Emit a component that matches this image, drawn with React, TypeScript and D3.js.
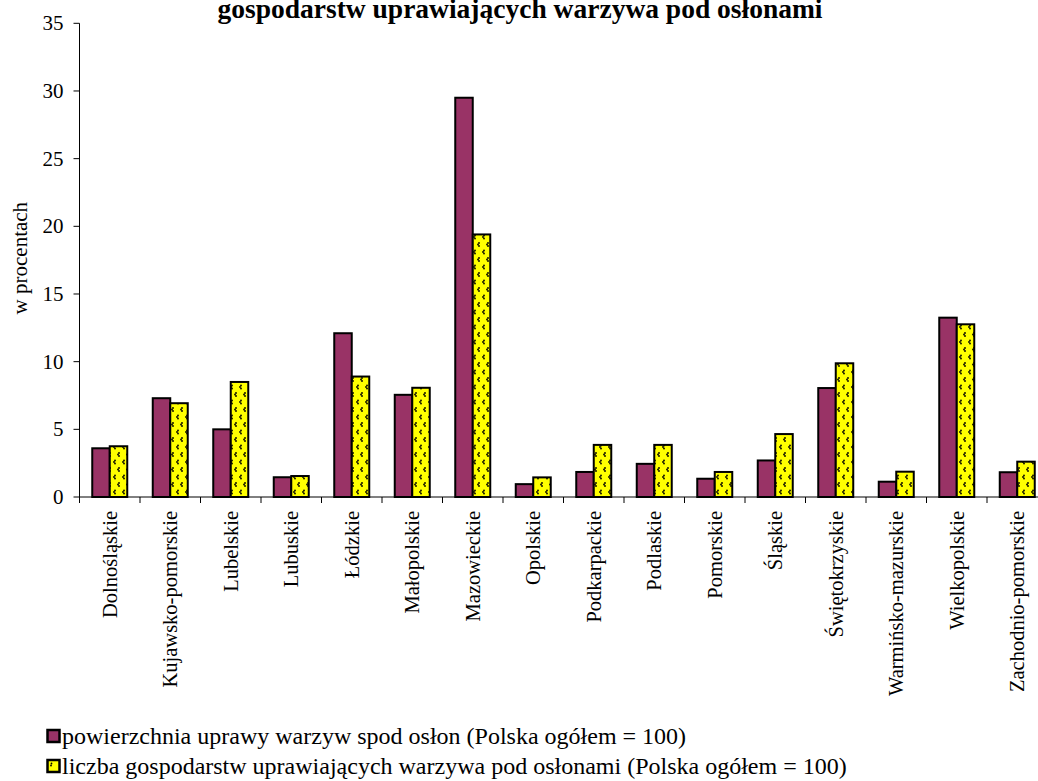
import React from "react";
import * as d3 from "d3";

const categories = [
  "Dolnośląskie", "Kujawsko-pomorskie", "Lubelskie", "Lubuskie", "Łódzkie", "Małopolskie",
  "Mazowieckie", "Opolskie", "Podkarpackie", "Podlaskie", "Pomorskie", "Śląskie",
  "Świętokrzyskie", "Warmińsko-mazurskie", "Wielkopolskie", "Zachodnio-pomorskie",
];
const powierzchnia = [3.6, 7.3, 5.0, 1.46, 12.1, 7.55, 29.5, 0.95, 1.85, 2.45, 1.35, 2.7, 8.05, 1.13, 13.25, 1.83];
const liczba = [3.75, 6.93, 8.5, 1.55, 8.9, 8.07, 19.4, 1.45, 3.85, 3.85, 1.85, 4.65, 9.88, 1.87, 12.76, 2.61];
const yTicks = [0, 5, 10, 15, 20, 25, 30, 35];
const seriesNames = [
  "powierzchnia uprawy warzyw spod osłon (Polska ogółem = 100)",
  "liczba gospodarstw uprawiających warzywa pod osłonami (Polska ogółem = 100)",
];
const titleText = "gospodarstw uprawiających warzywa pod osłonami";

const PURPLE = "#993366";
const YELLOW = "#FFFF00";
const FONT = "'Liberation Serif', 'Times New Roman', 'DejaVu Serif', serif";

export default function App() {
  const W = 1038, H = 781;
  const x0 = 79.5, catW = 60.5;
  const x = d3.scaleBand<string>().domain(categories).range([x0, x0 + catW * categories.length]).paddingInner(0).paddingOuter(0);
  const y = d3.scaleLinear().domain([0, 35]).range([497, 23.3]);
  const barW = 17.5;
  const bottom = y(0);

  return (
    <svg width={W} height={H} style={{ position: "absolute", left: 0, top: 0, background: "#fff", fontFamily: FONT }} fontFamily={FONT}>
      <defs>
        <pattern id="yp" patternUnits="userSpaceOnUse" width="9" height="15" x="0" y="0">
          <rect width="9" height="15" fill={YELLOW} />
          <circle cx="2" cy="3" r="0.9" fill="#000" />
          <circle cx="1" cy="4.5" r="0.9" fill="#000" />
          <circle cx="2" cy="6" r="0.9" fill="#000" />
          <circle cx="7" cy="10.5" r="0.9" fill="#000" />
          <circle cx="6" cy="12" r="0.9" fill="#000" />
          <circle cx="7" cy="13.5" r="0.9" fill="#000" />
        </pattern>
      </defs>
      <rect width={W} height={H} fill="#fff" />
      <text x={520} y={18} textAnchor="middle" fontWeight="bold" fontSize={27.5}>{titleText}</text>

      {/* y axis */}
      <line x1={x0} x2={x0} y1={y(35)} y2={bottom} stroke="#000" strokeWidth={1} />
      {yTicks.map((t) => (
        <g key={t}>
          <line x1={x0 - 6} x2={x0} y1={y(t)} y2={y(t)} stroke="#000" strokeWidth={1} />
          <text x={x0 - 16} y={y(t) + 7} textAnchor="end" fontSize={21}>{t}</text>
        </g>
      ))}
      <text transform={`translate(27,${(y(35) + bottom) / 2 - 2}) rotate(-90)`} textAnchor="middle" fontSize={21}>w procentach</text>

      {/* bars */}
      {categories.map((c, i) => {
        const cx = (x(c) as number) + x.bandwidth() / 2;
        return (
          <g key={c}>
            <rect x={cx - barW} y={y(powierzchnia[i])} width={barW} height={bottom - y(powierzchnia[i])} fill={PURPLE} stroke="#000" strokeWidth={2} />
            <rect x={cx} y={y(liczba[i])} width={barW} height={bottom - y(liczba[i])} fill="url(#yp)" stroke="#000" strokeWidth={2} />
          </g>
        );
      })}

      {/* x axis */}
      <line x1={x0} x2={x0 + catW * categories.length} y1={bottom} y2={bottom} stroke="#000" strokeWidth={1} />
      {d3.range(categories.length + 1).map((i) => (
        <line key={i} x1={x0 + i * catW} x2={x0 + i * catW} y1={bottom} y2={bottom + 6} stroke="#000" strokeWidth={1} />
      ))}
      {categories.map((c) => {
        const cx = (x(c) as number) + x.bandwidth() / 2;
        return (
          <text key={c} transform={`translate(${cx + 7},${bottom + 14}) rotate(-90)`} textAnchor="end" fontSize={20.5}>{c}</text>
        );
      })}

      {/* legend */}
      {seriesNames.map((s, i) => (
        <g key={s}>
          <rect x={47.5} y={730 + i * 30} width={12} height={12} fill={i === 0 ? PURPLE : YELLOW} stroke="#000" strokeWidth={2.5} />
          {i === 1 && (
            <g>
              <circle cx={51.5} cy={763.5} r={0.9} fill="#000" />
              <circle cx={51} cy={765.5} r={0.9} fill="#000" />
            </g>
          )}
          <text x={62} y={744 + i * 30} fontSize={24}>{s}</text>
        </g>
      ))}
    </svg>
  );
}
